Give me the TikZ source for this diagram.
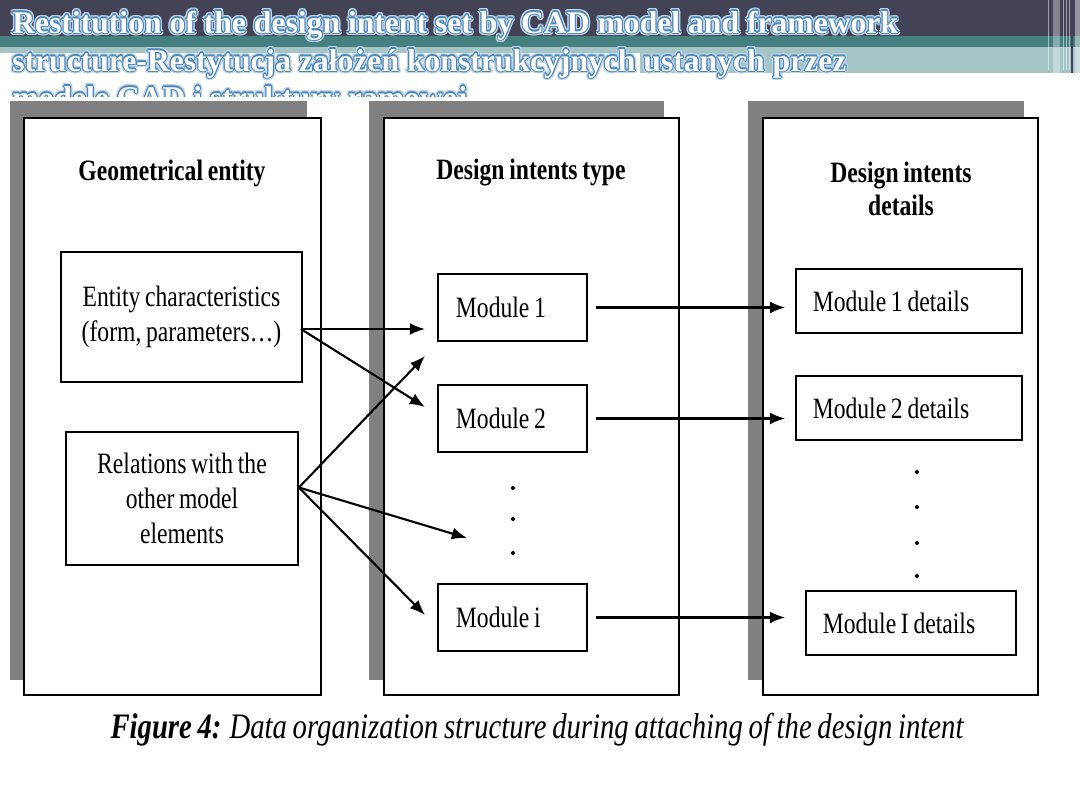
\documentclass[tikz,border=0pt]{standalone}
\usepackage{fontspec}
\setmainfont{Liberation Serif}
\newfontfamily\figfont[FakeStretch=0.8, WordSpace=0.8]{Liberation Serif}
\usepackage{tikz}
\usetikzlibrary{arrows.meta, positioning, calc}
\definecolor{slidedark}{RGB}{67,66,86}
\definecolor{slideteal}{RGB}{70,127,128}
\definecolor{slidelight}{RGB}{164,196,198}
\definecolor{glowblue}{RGB}{74,134,184}
\definecolor{shadowgray}{RGB}{128,128,128}

\begin{document}
\begin{tikzpicture}[x=0.025cm, y=-0.025cm,
  shadowbox/.style={fill=shadowgray},
  panelbox/.style={draw, fill=white, line width=1.1pt},
  heading/.style={font=\figfont\fontsize{21}{23}\selectfont\bfseries, align=center},
  entitybox/.style={draw, line width=1.2pt, align=center, font=\figfont\fontsize{21}{25}\selectfont},
  modbox/.style={draw, line width=1.2pt, minimum height=1.675cm, align=left,
    inner xsep=0.45cm, font=\figfont\fontsize{21}{25}\selectfont,
    execute at begin node={\spaceskip=0.16em\relax}},
  link/.style={-{Latex[length=0.38cm, width=0.3cm]}, line width=1.5pt},
  titletext/.style={anchor=base west, inner sep=0pt, font=\bfseries\fontsize{22.5}{26}\selectfont}
]
\useasboundingbox (0,0) rectangle (1080,810);
\fill[white] (0,0) rectangle (1080,810);

% slide header bands
\fill[slidedark] (0,0) rectangle (1080,36);
\fill[slideteal] (0,36) rectangle (1080,47);
\fill[slidelight] (0,47) rectangle (1080,53);
\fill[slidelight] (640,53) rectangle (1080,73);
\fill[white, opacity=0.35] (1053,0) rectangle (1060,73);
\fill[white, opacity=0.45] (1075,0) rectangle (1080,73);
\foreach \xl in {1048, 1063, 1066, 1069} {
  \draw[white, opacity=0.5, line width=0.6pt] (\xl,0) -- (\xl,70);
}
\draw[slidedark, line width=0.9pt] (1072,0) -- (1072,73);

% title with glow
\foreach \n/\yb/\txt in {1/33/{Restitution of the design intent set by CAD model and framework},
    2/71/{structure-Restytucja założeń konstrukcyjnych ustanych przez},
    3/108/{modele CAD i struktury ramowej}} {
  \foreach \a in {0,30,...,330} {
    \node[titletext, text=glowblue!35] at ($(12,\yb)+(\a:2.4)$) {\txt};
  }
  \foreach \a in {0,45,...,315} {
    \node[titletext, text=glowblue] at ($(12,\yb)+(\a:1.1)$) {\txt};
  }
  \node[titletext, text=white] (title\n) at (12,\yb) {\txt};
}

% figure area covers the last title line
\fill[white] (0,97) rectangle (1080,810);

% panels
\fill[shadowbox] (10,101) rectangle (307,680);
\fill[shadowbox] (369,101) rectangle (664,680);
\fill[shadowbox] (748,101) rectangle (1024,680);
\draw[panelbox] (24,118) rectangle (321,695);
\draw[panelbox] (384,118) rectangle (679,695);
\draw[panelbox] (763,118) rectangle (1038,695);

\node[heading] (geo) at (172,173) {Geometrical entity};
\node[heading] (dit) at (531,173) {Design intents type};
\node[heading] (did) at (901,189) {Design intents\\details};

% geometrical entity
\node[entitybox, minimum width=6.025cm, minimum height=3.25cm] (ec) at (181.5,317)
  {Entity characteristics\\(form, parameters\ldots)};
\node[entitybox, minimum width=5.8cm, minimum height=3.325cm] (rel) at (182,498.5)
  {Relations with the\\other model\\elements};

% design intents type
\node[modbox, text width=2.825cm] (m1) at (512.5,307.5) {Module 1};
\node[modbox, text width=2.825cm] (m2) at (512.5,418.5) {Module 2};
\node[modbox, text width=2.825cm] (mi) at (512.5,617.5) {Module i};
\foreach \yd in {488, 519, 553} {
  \fill (513,\yd) circle (2);
}

% design intents details
\node[modbox, minimum height=1.6cm, inner xsep=0.42cm, text width=4.81cm] (d1) at (909,301) {Module 1 details};
\node[modbox, minimum height=1.6cm, inner xsep=0.42cm, text width=4.81cm] (d2) at (909,408) {Module 2 details};
\node[modbox, minimum height=1.6cm, inner xsep=0.42cm, text width=4.41cm] (dI) at (911,623) {Module I details};
\foreach \yd in {472, 507, 543, 576} {
  \fill (917,\yd) circle (2);
}

% connectors
\coordinate (ecout) at ($(ec.east)+(-2,12)$);
\coordinate (relout) at ($(rel.east)+(0,-11)$);
\coordinate (tip1) at (425,329);
\coordinate (tip2) at (425,407);
\coordinate (tip3) at (425,356);
\coordinate (tipdots) at (467,538);
\coordinate (tipi) at (425,615);

\draw[link] (ecout) -- (tip1);
\draw[link] (ecout) -- (tip2);
\draw[link] (relout) -- (tip3);
\draw[link] (relout) -- (tipdots);
\draw[link] (relout) -- (tipi);

\draw[link, shorten <=0.2cm, shorten >=0.25cm] (m1) -- (m1 -| d1.west);
\draw[link, shorten <=0.2cm, shorten >=0.25cm] (m2) -- (m2 -| d2.west);
\draw[link, shorten <=0.2cm, shorten >=0.5cm] (mi) -- (mi -| dI.west);

\node[font=\figfont\fontsize{25.5}{28}\selectfont\itshape] (caption) at (537,730)
  {\textbf{Figure 4:} Data organization structure during attaching of the design intent};
\end{tikzpicture}
\end{document}
